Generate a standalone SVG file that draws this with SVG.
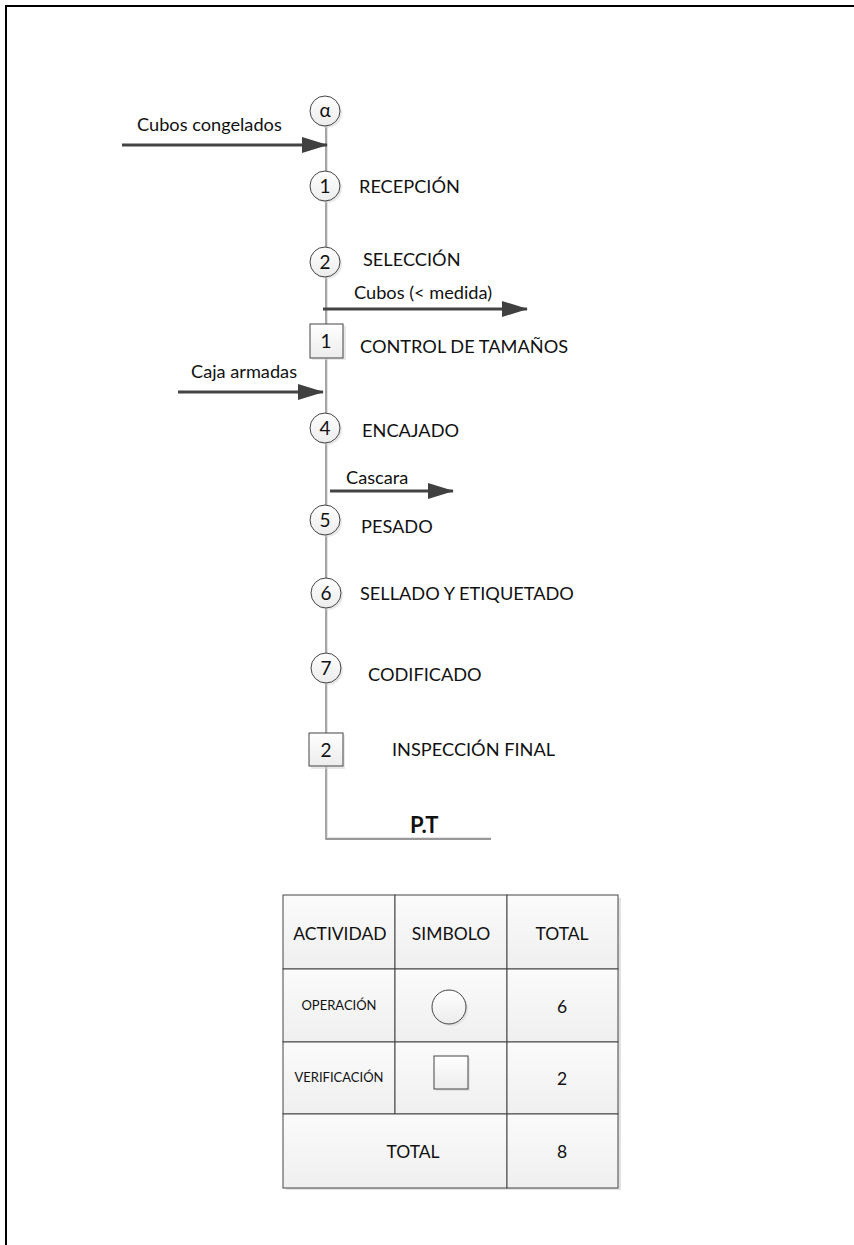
<svg xmlns="http://www.w3.org/2000/svg" width="854" height="1245" viewBox="0 0 854 1245">
<defs>
<linearGradient id="g" x1="0" y1="0" x2="0" y2="1"><stop offset="0" stop-color="#ffffff"/><stop offset="1" stop-color="#ececec"/></linearGradient>
<linearGradient id="gc" x1="0" y1="0" x2="0" y2="1"><stop offset="0" stop-color="#fbfbfb"/><stop offset="1" stop-color="#efefef"/></linearGradient>
<marker id="ahb" viewBox="0 0 26 16" refX="25" refY="8" markerWidth="26" markerHeight="16" orient="auto" markerUnits="userSpaceOnUse"><path d="M0,0 L26,8 L0,16 z" fill="#404040"/></marker>
</defs>
<style>
.t{font-family:Lato,"Liberation Sans",sans-serif;font-size:18.2px;fill:#111}
.n{font-family:Lato,"Liberation Sans",sans-serif;font-size:19px;fill:#111;text-anchor:middle}
.tb{font-family:Lato,"Liberation Sans",sans-serif;font-size:17.5px;fill:#111;text-anchor:middle}
.s{font-family:Lato,"Liberation Sans",sans-serif;font-size:13px;fill:#111;text-anchor:middle}
.c{fill:url(#g);stroke:#444;stroke-width:1}
.sh{fill:#d8d8d8;opacity:0.6}
.flow{stroke:#444;stroke-width:3;fill:none;marker-end:url(#ahb)}
.vl{stroke:#777;stroke-width:1.3;fill:none}
.cell{fill:url(#gc);stroke:#444;stroke-width:1}
</style>
<rect width="854" height="1245" fill="#fff"/>
<path d="M6,1245 V6 H854" fill="none" stroke="#000" stroke-width="2"/>

<g id="connectors">
<path class="vl" d="M326,125 V839 H491"/>
<path d="M327.5,125 V837.5 H491" fill="none" stroke="#e4e4e4" stroke-width="1"/>
<line class="flow" x1="122" y1="145" x2="327" y2="145"/>
<line class="flow" x1="323" y1="309" x2="527" y2="309"/>
<line class="flow" x1="178" y1="392" x2="323" y2="392"/>
<line class="flow" x1="330" y1="491" x2="453" y2="491"/>
</g>
<g id="labels-flows">
<text class="t" x="137" y="131">Cubos congelados</text>
<text class="t" x="354" y="299">Cubos (&lt; medida)</text>
<text class="t" x="191" y="378">Caja armadas</text>
<text class="t" x="346" y="484">Cascara</text>
<text x="410" y="833" font-family="Lato,'Liberation Sans',sans-serif" font-size="22" font-weight="bold" fill="#111">P.T</text>
</g>

<g id="n-alpha"><circle class="sh" cx="327" cy="113" r="15"/><circle class="c" cx="325" cy="111" r="15"/><text class="n" x="325" y="117">α</text></g>
<g id="n1"><circle class="sh" cx="327" cy="188" r="15"/><circle class="c" cx="325" cy="186" r="15"/><text class="n" x="325" y="193">1</text><text class="t" x="359" y="193">RECEPCIÓN</text></g>
<g id="n2"><circle class="sh" cx="327" cy="264" r="15"/><circle class="c" cx="325" cy="262" r="15"/><text class="n" x="325" y="269">2</text><text class="t" x="363" y="266">SELECCIÓN</text></g>
<g id="v1"><rect class="sh" x="312" y="326" width="34" height="34"/><rect class="c" x="310" y="324" width="33" height="34"/><text class="n" x="326" y="348">1</text><text class="t" x="360" y="353">CONTROL DE TAMAÑOS</text></g>
<g id="n4"><circle class="sh" cx="327" cy="430" r="15"/><circle class="c" cx="325" cy="428" r="15"/><text class="n" x="325" y="435">4</text><text class="t" x="362" y="437">ENCAJADO</text></g>
<g id="n5"><circle class="sh" cx="327" cy="522" r="15"/><circle class="c" cx="325" cy="520" r="15"/><text class="n" x="325" y="527">5</text><text class="t" x="361" y="533">PESADO</text></g>
<g id="n6"><circle class="sh" cx="328" cy="595" r="15"/><circle class="c" cx="326" cy="593" r="15"/><text class="n" x="326" y="600">6</text><text class="t" x="360" y="600">SELLADO Y ETIQUETADO</text></g>
<g id="n7"><circle class="sh" cx="328" cy="670" r="15"/><circle class="c" cx="326" cy="668" r="15"/><text class="n" x="326" y="675">7</text><text class="t" x="368" y="681">CODIFICADO</text></g>
<g id="v2"><rect class="sh" x="311" y="735" width="34" height="34"/><rect class="c" x="309" y="733" width="34" height="33"/><text class="n" x="326" y="756.5">2</text><text class="t" x="392" y="756">INSPECCIÓN FINAL</text></g>

<g id="table">
<rect x="286" y="898" width="335" height="292" fill="#e2e2e2"/>
<rect class="cell" x="283" y="895" width="112" height="74"/>
<rect class="cell" x="395" y="895" width="112" height="74"/>
<rect class="cell" x="507" y="895" width="111" height="74"/>
<rect class="cell" x="283" y="969" width="112" height="73"/>
<rect class="cell" x="395" y="969" width="112" height="73"/>
<rect class="cell" x="507" y="969" width="111" height="73"/>
<rect class="cell" x="283" y="1042" width="112" height="72"/>
<rect class="cell" x="395" y="1042" width="112" height="72"/>
<rect class="cell" x="507" y="1042" width="111" height="72"/>
<rect class="cell" x="283" y="1114" width="224" height="74"/>
<rect class="cell" x="507" y="1114" width="111" height="74"/>
<text class="tb" x="340" y="940">ACTIVIDAD</text>
<text class="tb" x="451" y="940">SIMBOLO</text>
<text class="tb" x="562" y="940">TOTAL</text>
<text class="s" x="339" y="1010">OPERACIÓN</text>
<circle class="sh" cx="451" cy="1009" r="17"/>
<circle class="c" cx="449" cy="1007" r="17"/>
<text class="tb" x="562" y="1013">6</text>
<text class="s" x="339" y="1082">VERIFICACIÓN</text>
<rect class="sh" x="436" y="1058" width="34" height="33"/>
<rect class="c" x="434" y="1056" width="34" height="33"/>
<text class="tb" x="562" y="1085">2</text>
<text class="tb" x="413" y="1158">TOTAL</text>
<text class="tb" x="562" y="1158">8</text>
</g>
</svg>
